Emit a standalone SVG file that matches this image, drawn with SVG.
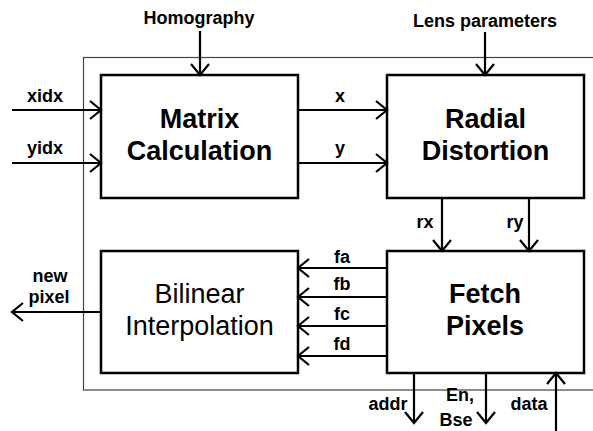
<svg xmlns="http://www.w3.org/2000/svg" width="593" height="431" viewBox="0 0 593 431">
<style>
.box{fill:#fff;stroke:#000;stroke-width:2.5}
.frame{fill:none;stroke:#444;stroke-width:1.2}
.c{fill:none;stroke:#000;stroke-width:2.2}
.nb{font-family:"Liberation Sans",Arial,sans-serif;font-size:27px;font-weight:bold;text-anchor:middle;fill:#000}
.nr{font-family:"Liberation Sans",Arial,sans-serif;font-size:27px;text-anchor:middle;fill:#000}
.l{font-family:"Liberation Sans",Arial,sans-serif;font-size:18px;font-weight:bold;text-anchor:middle;fill:#000}
</style>
<defs>
<marker id="ah" markerUnits="userSpaceOnUse" markerWidth="30" markerHeight="30" refX="0" refY="0" viewBox="-15 -15 30 30" orient="auto" overflow="visible">
<path d="M-11,-9 L0,0 L-11,9" fill="none" stroke="#000" stroke-width="2.2"/>
</marker>
</defs>
<rect width="593" height="431" fill="#fff"/>
<rect class="frame" x="83.5" y="57.5" width="600" height="332.5"/>
<g id="matrix">
<rect class="box" x="101" y="75" width="197" height="123"/>
<text class="nb" x="199.5" y="128">Matrix</text>
<text class="nb" x="199.5" y="160">Calculation</text>
</g>
<g id="radial">
<rect class="box" x="387" y="75" width="197" height="123"/>
<text class="nb" x="485.5" y="128">Radial</text>
<text class="nb" x="485.5" y="160">Distortion</text>
</g>
<g id="bilinear">
<rect class="box" x="101" y="251" width="197" height="122"/>
<text class="nr" x="199.5" y="303">Bilinear</text>
<text class="nr" x="199.5" y="335">Interpolation</text>
</g>
<g id="fetch">
<rect class="box" x="387" y="251" width="197" height="122"/>
<text class="nb" x="485" y="303">Fetch</text>
<text class="nb" x="485" y="335">Pixels</text>
</g>
<g id="connectors">
<line class="c" x1="200" y1="31" x2="200" y2="75" marker-end="url(#ah)"/>
<line class="c" x1="485" y1="32" x2="485" y2="75" marker-end="url(#ah)"/>
<line class="c" x1="12" y1="110" x2="101" y2="110" marker-end="url(#ah)"/>
<line class="c" x1="12" y1="163" x2="101" y2="163" marker-end="url(#ah)"/>
<line class="c" x1="298" y1="110" x2="387" y2="110" marker-end="url(#ah)"/>
<line class="c" x1="298" y1="163" x2="387" y2="163" marker-end="url(#ah)"/>
<line class="c" x1="442" y1="198" x2="442" y2="251" marker-end="url(#ah)"/>
<line class="c" x1="529" y1="198" x2="529" y2="251" marker-end="url(#ah)"/>
<line class="c" x1="387" y1="268" x2="298" y2="268" marker-end="url(#ah)"/>
<line class="c" x1="387" y1="297" x2="298" y2="297" marker-end="url(#ah)"/>
<line class="c" x1="387" y1="326" x2="298" y2="326" marker-end="url(#ah)"/>
<line class="c" x1="387" y1="356" x2="298" y2="356" marker-end="url(#ah)"/>
<line class="c" x1="101" y1="312" x2="12" y2="312" marker-end="url(#ah)"/>
<line class="c" x1="414" y1="373" x2="414" y2="423" marker-end="url(#ah)"/>
<line class="c" x1="486" y1="373" x2="486" y2="423" marker-end="url(#ah)"/>
<line class="c" x1="556" y1="433" x2="556" y2="373" marker-end="url(#ah)"/>
<text class="l" x="199" y="24">Homography</text>
<text class="l" x="485" y="27">Lens parameters</text>
<text class="l" x="45" y="102">xidx</text>
<text class="l" x="45" y="154">yidx</text>
<text class="l" x="340" y="102">x</text>
<text class="l" x="340" y="154">y</text>
<text class="l" x="425" y="228">rx</text>
<text class="l" x="515" y="228">ry</text>
<text class="l" x="342" y="263">fa</text>
<text class="l" x="342" y="290">fb</text>
<text class="l" x="342" y="320">fc</text>
<text class="l" x="342" y="350">fd</text>
<text class="l" x="50" y="282">new</text>
<text class="l" x="49" y="303">pixel</text>
<text class="l" x="388" y="410">addr</text>
<text class="l" x="460" y="401">En,</text>
<text class="l" x="456" y="426">Bse</text>
<text class="l" x="529" y="410">data</text>
</g>
</svg>
